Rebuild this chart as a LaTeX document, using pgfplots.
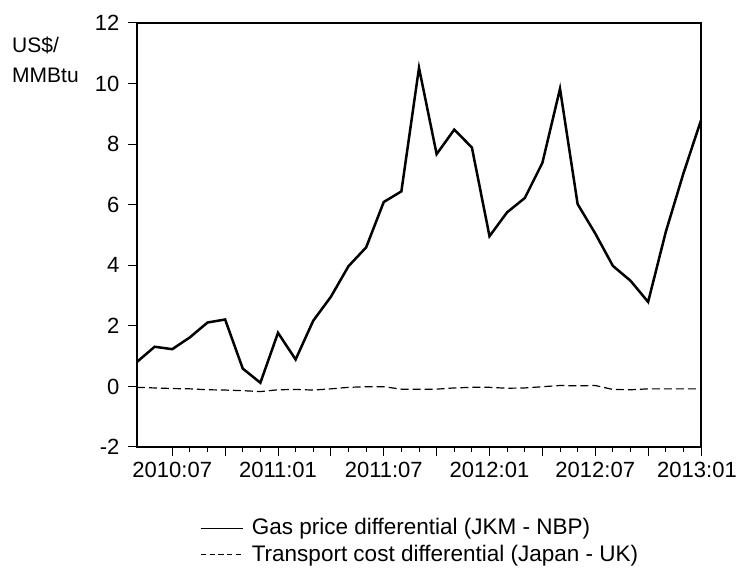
\documentclass[border=0pt]{standalone}
\usepackage{pgfplots}
\pgfplotsset{compat=1.18}
\usepackage{fontspec}
\setmainfont{Liberation Sans}
\pgfplotstableread{
i gas tc
0 0.81 -0.03
1 1.31 -0.05
2 1.23 -0.07
3 1.62 -0.08
4 2.11 -0.11
5 2.21 -0.12
6 0.59 -0.14
7 0.12 -0.17
8 1.77 -0.11
9 0.89 -0.10
10 2.17 -0.12
11 2.96 -0.08
12 3.97 -0.03
13 4.59 -0.01
14 6.09 -0.01
15 6.44 -0.09
16 10.52 -0.09
17 7.67 -0.09
18 8.48 -0.05
19 7.89 -0.03
20 4.96 -0.03
21 5.75 -0.06
22 6.22 -0.05
23 7.38 -0.01
24 9.83 0.03
25 6.02 0.02
26 5.05 0.03
27 3.98 -0.10
28 3.49 -0.11
29 2.79 -0.08
30 5.10 -0.08
31 7.03 -0.08
32 8.79 -0.08
}\datatable
\begin{document}
\fontsize{22}{26}\selectfont
\begin{tikzpicture}[x=1pt,y=1pt]
\path[use as bounding box] (0,0) rectangle (738,567);
\begin{axis}[
 at={(137pt,120pt)}, anchor=south west,
 scale only axis, width=564pt, height=424pt,
 xmin=0, xmax=32, ymin=-2, ymax=12,
 ytick={-2,0,2,4,6,8,10,12},
 xtick={2,8,14,20,26,32},
 xticklabels={2010:07,2011:01,2011:07,2012:01,2012:07,\hspace*{-8pt}2013:01},
 extra x ticks={5,11,17,23,29}, extra x tick labels={},
 minor x tick num=5,
 tick align=outside, tick pos=left,
 major tick length=9pt, minor tick length=5pt,
 axis line style={line width=1.1pt},
 every tick/.style={line width=1pt, black},
 /pgf/number format/assume math mode=true,
 ticklabel style={font=\fontsize{22}{26}\selectfont},
 yticklabel style={xshift=-1pt},
 xticklabel style={yshift=1pt},
 clip=false,
 legend style={draw=none, fill=none, at={(rel axis cs:0.112,-0.163)}, anchor=north west,
   cells={anchor=west}, row sep=3pt, font=\fontsize{22.5}{26}\selectfont, inner sep=0pt},
]
\addplot[black, line width=2.5pt, line join=miter,
  legend image code/.code={\draw[black, solid, line width=0.9pt] (0pt,0pt) -- (42pt,0pt); \path[draw=none] (0pt,0pt) -- (49pt,0pt);}]
  table[x=i, y=gas] {\datatable};
\addlegendentry{Gas price differential (JKM - NBP)}
\addplot[black, line width=1.2pt, dash pattern=on 8pt off 4pt,
  legend image code/.code={\draw[black, line width=0.9pt, dash pattern=on 5.5pt off 3.2pt] (0pt,0pt) -- (42pt,0pt); \path[draw=none] (0pt,0pt) -- (49pt,0pt);}]
  table[x=i, y=tc] {\datatable};
\addlegendentry{Transport cost differential (Japan - UK)}
\end{axis}
\node[anchor=base west, align=left, inner sep=0pt, font=\fontsize{21}{30}\selectfont] at (12,484) {US\$/\\MMBtu};
\end{tikzpicture}
\end{document}
